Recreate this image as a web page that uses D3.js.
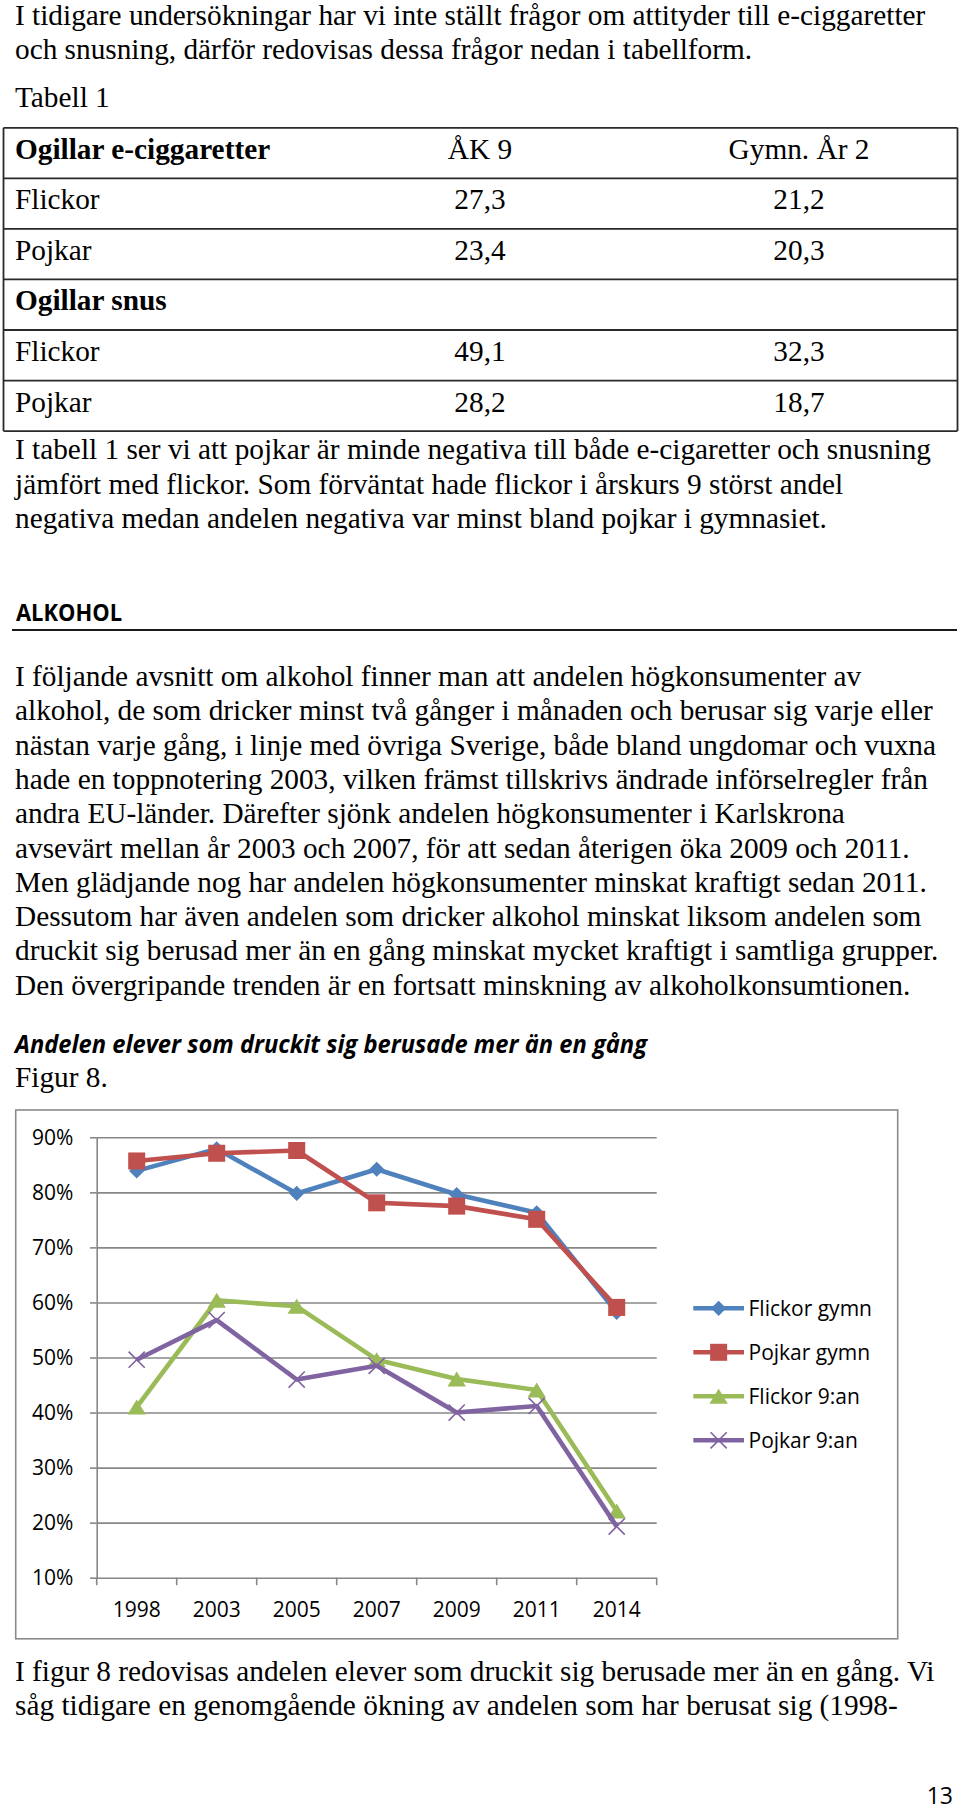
<!DOCTYPE html>
<html>
<head>
<meta charset="utf-8">
<script src="https://cdn.jsdelivr.net/npm/d3@7/dist/d3.min.js"></script>
<style>
  html, body { margin: 0; padding: 0; background: #fff; }
  svg { display: block; }
</style>
</head>
<body>
<script>
// ---------------- DATA ----------------
const introLines = [
  "I tidigare undersökningar har vi inte ställt frågor om attityder till e-ciggaretter",
  "och snusning, därför redovisas dessa frågor nedan i tabellform."
];
const tableCaption = "Tabell 1";
const tableColumns = ["ÅK 9", "Gymn. År 2"];
const tableSections = ["Ogillar e-ciggaretter", "Ogillar snus"];
const tableGroups = ["Flickor", "Pojkar"];
const eCigAK9 = [27.3, 23.4];
const eCigGymn = [21.2, 20.3];
const snusAK9 = [49.1, 28.2];
const snusGymn = [32.3, 18.7];

const afterTableLines = [
  "I tabell 1 ser vi att pojkar är minde negativa till både e-cigaretter och snusning",
  "jämfört med flickor. Som förväntat hade flickor i årskurs 9 störst andel",
  "negativa medan andelen negativa var minst bland pojkar i gymnasiet."
];
const sectionHeading = "ALKOHOL";
const alcoholLines = [
  "I följande avsnitt om alkohol finner man att andelen högkonsumenter av",
  "alkohol, de som dricker minst två gånger i månaden och berusar sig varje eller",
  "nästan varje gång, i linje med övriga Sverige, både bland ungdomar och vuxna",
  "hade en toppnotering 2003, vilken främst tillskrivs ändrade införselregler från",
  "andra EU-länder. Därefter sjönk andelen högkonsumenter i Karlskrona",
  "avsevärt mellan år 2003 och 2007, för att sedan återigen öka 2009 och 2011.",
  "Men glädjande nog har andelen högkonsumenter minskat kraftigt sedan 2011.",
  "Dessutom har även andelen som dricker alkohol minskat liksom andelen som",
  "druckit sig berusad mer än en gång minskat mycket kraftigt i samtliga grupper.",
  "Den övergripande trenden är en fortsatt minskning av alkoholkonsumtionen."
];
const chartTitle = "Andelen elever som druckit sig berusade mer än en gång";
const figureLabel = "Figur 8.";
const closingLines = [
  "I figur 8 redovisas andelen elever som druckit sig berusade mer än en gång. Vi",
  "såg tidigare en genomgående ökning av andelen som har berusat sig (1998-"
];
const pageNumber = "13";

// chart data (percent)
const years = ["1998", "2003", "2005", "2007", "2009", "2011", "2014"];
const flickorGymn = [83.9, 87.9, 79.8, 84.2, 79.6, 76.3, 58.2];
const pojkarGymn  = [85.7, 87.1, 87.6, 78.1, 77.5, 75.1, 59.1];
const flickor9an  = [41.0, 60.4, 59.3, 49.6, 46.1, 44.1, 22.1];
const pojkar9an   = [49.6, 56.8, 46.0, 48.5, 40.0, 41.2, 19.3];
const seriesNames = ["Flickor gymn", "Pojkar gymn", "Flickor 9:an", "Pojkar 9:an"];
const yTicks = [10, 20, 30, 40, 50, 60, 70, 80, 90];

// ---------------- SETUP ----------------
const W = 960, H = 1812;
const serif = "'Liberation Serif','Times New Roman',serif";
const sans = "'Open Sans','Noto Sans',sans-serif";
const bodySize = 29.3;
const lineH = 34.3;

const svg = d3.select("body").append("svg")
  .attr("width", W).attr("height", H)
  .attr("viewBox", `0 0 ${W} ${H}`);
svg.append("rect").attr("width", W).attr("height", H).attr("fill", "#fff");

function drawLines(lines, x, y0, opts = {}) {
  const g = svg.append("g");
  g.selectAll("text").data(lines).join("text")
    .attr("x", x)
    .attr("y", (d, i) => y0 + i * lineH)
    .attr("font-family", opts.family || serif)
    .attr("font-size", opts.size || bodySize)
    .attr("font-weight", opts.weight || "normal")
    .attr("font-style", opts.style || "normal")
    .attr("fill", "#000")
    .text(d => d);
  return g;
}

// ---------------- INTRO ----------------
drawLines(introLines, 15, 25);
drawLines([tableCaption], 15, 107);

// ---------------- TABLE ----------------
const svFmt = d3.formatLocale({decimal: ",", thousands: " ", grouping: [3], currency: ["", " kr"]}).format(".1f");
const tableRows = [
  {label: tableSections[0], bold: true, cells: tableColumns},
  {label: tableGroups[0], cells: [svFmt(eCigAK9[0]), svFmt(eCigGymn[0])]},
  {label: tableGroups[1], cells: [svFmt(eCigAK9[1]), svFmt(eCigGymn[1])]},
  {label: tableSections[1], bold: true, cells: []},
  {label: tableGroups[0], cells: [svFmt(snusAK9[0]), svFmt(snusGymn[0])]},
  {label: tableGroups[1], cells: [svFmt(snusAK9[1]), svFmt(snusGymn[1])]}
];
const tTop = 127.8, tRowH = 50.55, tLeft = 3.5, tRight = 957.5;
const colCenters = [480, 799];
const tg = svg.append("g");
tg.selectAll("line.row").data(d3.range(tableRows.length + 1)).join("line")
  .attr("class", "row")
  .attr("x1", tLeft).attr("x2", tRight)
  .attr("y1", i => tTop + i * tRowH).attr("y2", i => tTop + i * tRowH)
  .attr("stroke", "#2a2a2a").attr("stroke-width", 1.8);
[tLeft, tRight].forEach(xx => {
  tg.append("line").attr("x1", xx).attr("x2", xx)
    .attr("y1", tTop).attr("y2", tTop + tableRows.length * tRowH)
    .attr("stroke", "#2a2a2a").attr("stroke-width", 1.8);
});
tableRows.forEach((r, i) => {
  const by = tTop + i * tRowH + 31;
  tg.append("text").attr("x", 15).attr("y", by)
    .attr("font-family", serif).attr("font-size", bodySize)
    .attr("font-weight", r.bold ? "bold" : "normal")
    .text(r.label);
  r.cells.forEach((c, j) => {
    tg.append("text").attr("x", colCenters[j]).attr("y", by)
      .attr("text-anchor", "middle")
      .attr("font-family", serif).attr("font-size", bodySize)
      .text(c);
  });
});

drawLines(afterTableLines, 15, 459.3);

// ---------------- ALKOHOL ----------------
svg.append("text").attr("x", 16).attr("y", 620.5)
  .attr("font-family", sans).attr("font-weight", "bold").attr("font-size", 22.5)
  .attr("textLength", 106).attr("lengthAdjust", "spacingAndGlyphs")
  .attr("fill", "#000").text(sectionHeading);
svg.append("line").attr("x1", 12).attr("x2", 957).attr("y1", 630).attr("y2", 630)
  .attr("stroke", "#1a1a1a").attr("stroke-width", 2);

drawLines(alcoholLines, 15, 686);

svg.append("text").attr("x", 15).attr("y", 1053)
  .attr("font-family", sans).attr("font-weight", "bold").attr("font-style", "italic")
  .attr("font-size", 24.5)
  .attr("textLength", 632).attr("lengthAdjust", "spacingAndGlyphs")
  .attr("fill", "#000").text(chartTitle);
drawLines([figureLabel], 15, 1087);

// ---------------- CHART ----------------
const chartFont = 21;
svg.append("rect").attr("x", 15.7).attr("y", 1110).attr("width", 882).attr("height", 528.8)
  .attr("fill", "#fff").attr("stroke", "#8a8a8a").attr("stroke-width", 1.6);

const plotL = 96.7, plotR = 656.7, plotT = 1137.3, plotB = 1577.7;
const x = d3.scaleBand().domain(years).range([plotL, plotR]);
const y = d3.scaleLinear().domain([10, 90]).range([plotB, plotT]);
const gridColor = "#878787";

// left ticks + labels
const gy = svg.append("g").attr("transform", `translate(${plotL},0)`)
  .call(d3.axisLeft(y).tickValues(yTicks).tickSizeInner(6.7).tickSizeOuter(0)
        .tickPadding(16.7).tickFormat(d => d + "%"));
gy.select(".domain").attr("stroke", gridColor).attr("stroke-width", 1.6);
gy.selectAll(".tick line").attr("stroke", gridColor).attr("stroke-width", 1.6);
gy.selectAll(".tick text").attr("font-family", sans).attr("font-size", chartFont).attr("fill", "#000");

// gridlines
const grid = svg.append("g").attr("transform", `translate(${plotL},0)`)
  .call(d3.axisLeft(y).tickValues(yTicks).tickSize(-(plotR - plotL)).tickFormat(""));
grid.select(".domain").remove();
grid.selectAll(".tick line").attr("stroke", gridColor).attr("stroke-width", 1.6);

// x axis: labels at band centers, ticks at band edges
const gx = svg.append("g").attr("transform", `translate(0,${plotB})`)
  .call(d3.axisBottom(x).tickSize(0).tickPadding(0));
gx.select(".domain").remove();
gx.selectAll(".tick text").attr("font-family", sans).attr("font-size", chartFont)
  .attr("fill", "#000").attr("dy", null).attr("y", 39);
const edges = years.map(d => x(d)).concat([x.range()[1]]);
svg.append("g").selectAll("line").data(edges).join("line")
  .attr("x1", d => d).attr("x2", d => d)
  .attr("y1", plotB).attr("y2", plotB + 7.5)
  .attr("stroke", gridColor).attr("stroke-width", 1.6);

// symbols
const diamondType = {draw(ctx, size) { const r = Math.sqrt(size / 2);
  ctx.moveTo(0, -r); ctx.lineTo(r, 0); ctx.lineTo(0, r); ctx.lineTo(-r, 0); ctx.closePath(); }};
const squareType = {draw(ctx, size) { const s = Math.sqrt(size) / 2;
  ctx.moveTo(-s, -s); ctx.lineTo(s, -s); ctx.lineTo(s, s); ctx.lineTo(-s, s); ctx.closePath(); }};
const triType = {draw(ctx, size) { const s = Math.sqrt(size);
  ctx.moveTo(0, -s * 0.45); ctx.lineTo(s * 0.55, s * 0.45); ctx.lineTo(-s * 0.55, s * 0.45); ctx.closePath(); }};
const xType = {draw(ctx, size) { const r = Math.sqrt(size) / 2;
  ctx.moveTo(-r, -r); ctx.lineTo(r, r); ctx.moveTo(r, -r); ctx.lineTo(-r, r); }};

const series = [
  {name: seriesNames[0], values: flickorGymn, color: "#4F81BD", type: diamondType, size: 115, fill: true},
  {name: seriesNames[1], values: pojkarGymn,  color: "#C0504D", type: squareType,  size: 290, fill: true},
  {name: seriesNames[2], values: flickor9an,  color: "#9BBB59", type: triType,     size: 280, fill: true},
  {name: seriesNames[3], values: pojkar9an,   color: "#8064A2", type: xType,       size: 260, fill: false}
];

const line = d3.line().x((d, i) => x(years[i]) + x.bandwidth() / 2).y(d => y(d));
const sg = svg.append("g");
series.forEach(s => {
  const g = sg.append("g");
  g.append("path").attr("d", line(s.values)).attr("fill", "none")
    .attr("stroke", s.color).attr("stroke-width", 4.6).attr("stroke-linejoin", "round");
  g.selectAll("path.m").data(s.values).join("path").attr("class", "m")
    .attr("transform", (d, i) => `translate(${x(years[i]) + x.bandwidth() / 2},${y(d)})`)
    .attr("d", d3.symbol().type(s.type).size(s.size))
    .attr("fill", s.fill ? s.color : "none")
    .attr("stroke", s.color).attr("stroke-width", s.fill ? 0 : 1.6);
});

// legend
const legX1 = 693.3, legX2 = 744, legTop = 1308.3, legStep = 44;
const lg = svg.append("g");
series.forEach((s, i) => {
  const ly = legTop + i * legStep;
  lg.append("line").attr("x1", legX1).attr("x2", legX2).attr("y1", ly).attr("y2", ly)
    .attr("stroke", s.color).attr("stroke-width", 4.6);
  lg.append("path").attr("transform", `translate(${(legX1 + legX2) / 2},${ly})`)
    .attr("d", d3.symbol().type(s.type).size(s.size))
    .attr("fill", s.fill ? s.color : "none")
    .attr("stroke", s.color).attr("stroke-width", s.fill ? 0 : 1.6);
  lg.append("text").attr("x", 748.5).attr("y", ly).attr("dy", "0.36em")
    .attr("font-family", sans).attr("font-size", chartFont).attr("fill", "#000")
    .text(s.name);
});

// ---------------- CLOSING ----------------
drawLines(closingLines, 15, 1681);
svg.append("text").attr("x", 953).attr("y", 1804).attr("text-anchor", "end")
  .attr("font-family", sans).attr("font-size", 23).attr("fill", "#000").text(pageNumber);
</script>
</body>
</html>
